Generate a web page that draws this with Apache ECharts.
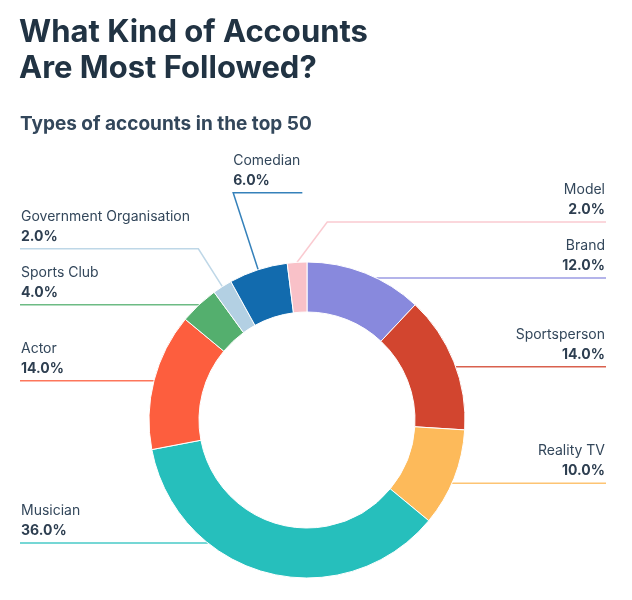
<!DOCTYPE html>
<html>
<head>
<meta charset="utf-8">
<title>What Kind of Accounts Are Most Followed?</title>
<script src="https://cdn.jsdelivr.net/npm/echarts@6/dist/echarts.min.js"></script>
<style>
  html, body { margin: 0; padding: 0; background: #fff; }
  #chart { width: 632px; height: 600px; }
</style>
</head>
<body>
<div id="chart"></div>
<script>
// accounts in the top 50, clockwise from 12 o'clock
const categories = ['Brand', 'Sportsperson', 'Reality TV', 'Musician', 'Actor',
  'Sports Club', 'Government Organisation', 'Comedian', 'Model'];
const accounts = [6, 7, 5, 18, 7, 2, 1, 3, 1];
const colors = ['#8889DD', '#D2452F', '#FDBA5A', '#26BFBC', '#FD5E3E',
  '#54AF6E', '#B3D0E3', '#126BAE', '#F9C1C8'];

const CX = 307, CY = 420, R0 = 108, R = 158;
const EDGE_L = 20, EDGE_R = 606;   // where the label lines end
const GAP = 56;                    // min distance between two stacked label lines
const LINE_MAX_Y = CY + 123;       // lowest a label line may sit
const RIGHT_DROP = 5;              // right hand lines sit a little under the slice middle
const FONT = 'Inter, "Noto Sans", sans-serif';

const total = accounts.reduce((a, b) => a + b, 0);

// work out where every label and its leader line go
function computeLabelLayout() {
  let acc = 0;
  const items = accounts.map((v, i) => {
    const a0 = acc / total * Math.PI * 2;
    acc += v;
    const a1 = acc / total * Math.PI * 2;
    const mid = (a0 + a1) / 2;
    const s = Math.sin(mid), c = Math.cos(mid);
    const right = s > -0.1;
    return {i: i, a0: a0, a1: a1, s: s, c: c, right: right,
      mx: CX + R * s, my: CY - R * c, y: CY - R * c + (right ? RIGHT_DROP : 0)};
  });

  [true, false].forEach(function (right) {
    const side = items.filter(d => d.right === right);
    // upper half: push labels upwards, away from the centre line
    const up = side.filter(d => d.my < CY).sort((a, b) => b.y - a.y);
    for (let k = 1; k < up.length; k++) up[k].y = Math.min(up[k].y, up[k - 1].y - GAP);
    // lower half: push downwards, then keep above the limit
    const down = side.filter(d => d.my >= CY).sort((a, b) => a.y - b.y);
    for (let k = 1; k < down.length; k++) down[k].y = Math.max(down[k].y, down[k - 1].y + GAP);
    for (let k = down.length - 1; k >= 0; k--) {
      const lim = k === down.length - 1 ? LINE_MAX_Y : down[k + 1].y - GAP;
      down[k].y = Math.min(down[k].y, lim);
    }
  });

  items.forEach(function (d) {
    const dir = d.right ? 1 : -1;
    const dy = d.y - CY;
    d.inline = !d.right && d.y < CY - R - 40;
    let hit = null;
    if (Math.abs(dy) < R) {
      const hx = CX + dir * Math.sqrt(R * R - dy * dy);
      let ang = Math.atan2(hx - CX, CY - d.y);
      if (ang < 0) ang += Math.PI * 2;
      if (ang >= d.a0 && ang <= d.a1) hit = [hx, d.y];
    }
    if (hit) {
      d.start = hit;
      d.knee = hit;
    } else {
      const sameSide = (d.s < 0) === !d.right;
      const slope = sameSide ? Math.abs(d.s / d.c) : 0.75;
      d.start = [d.mx, d.my];
      d.knee = [d.mx + dir * Math.abs(d.y - d.my) * slope, d.y];
    }
  });
  return items;
}

const labelPlan = computeLabelLayout();

function placeLabel(params) {
  const p = labelPlan[params.dataIndex];
  const w = params.labelRect.width;
  let x, align, end;
  if (p.inline) {
    x = p.knee[0]; align = 'left'; end = p.knee[0] + w + 2;
  } else if (p.right) {
    x = EDGE_R - 1; align = 'right'; end = EDGE_R;
  } else {
    x = EDGE_L + 1; align = 'left'; end = EDGE_L;
  }
  return {
    x: x,
    y: p.y - 2,
    align: align,
    verticalAlign: 'bottom',
    labelLinePoints: [p.start, p.knee, [end, p.y]]
  };
}

const myChart = echarts.init(document.getElementById('chart'), null, {renderer: 'canvas'});

const option = {
  backgroundColor: '#fff',
  animation: false,
  textStyle: {fontFamily: FONT},
  title: [{
    text: 'What Kind of Accounts\nAre Most Followed?',
    left: 19,
    top: 15,
    padding: 0,
    textStyle: {
      fontFamily: FONT,
      fontSize: 31,
      fontWeight: 700,
      lineHeight: 36,
      color: '#213343'
    }
  }, {
    text: 'Types of accounts in the top 50',
    left: 20,
    top: 113,
    padding: 0,
    textStyle: {
      fontFamily: FONT,
      fontSize: 19,
      fontWeight: 700,
      lineHeight: 22,
      color: '#33475B'
    }
  }],
  series: [{
    type: 'pie',
    center: [CX, CY],
    radius: [R0, R],
    startAngle: 90,
    clockwise: true,
    avoidLabelOverlap: false,
    itemStyle: {borderColor: '#fff', borderWidth: 1},
    emphasis: {disabled: true},
    label: {
      show: true,
      overflow: 'none',
      formatter: function (p) {
        return '{n|' + p.name + '}\n{p|' + (p.value / total * 100).toFixed(1) + '%}';
      },
      rich: {
        n: {fontFamily: FONT, fontSize: 14, lineHeight: 20, color: '#33475B'},
        p: {fontFamily: FONT, fontSize: 14, lineHeight: 20, fontWeight: 700, color: '#2D3E50'}
      }
    },
    labelLine: {
      show: true,
      length: 15,
      length2: 10,
      lineStyle: {width: 1.5, opacity: 0.85}
    },
    labelLayout: placeLabel,
    data: categories.map((name, i) => ({
      name: name,
      value: accounts[i],
      itemStyle: {color: colors[i]}
    }))
  }]
};

myChart.setOption(option);
</script>
</body>
</html>
